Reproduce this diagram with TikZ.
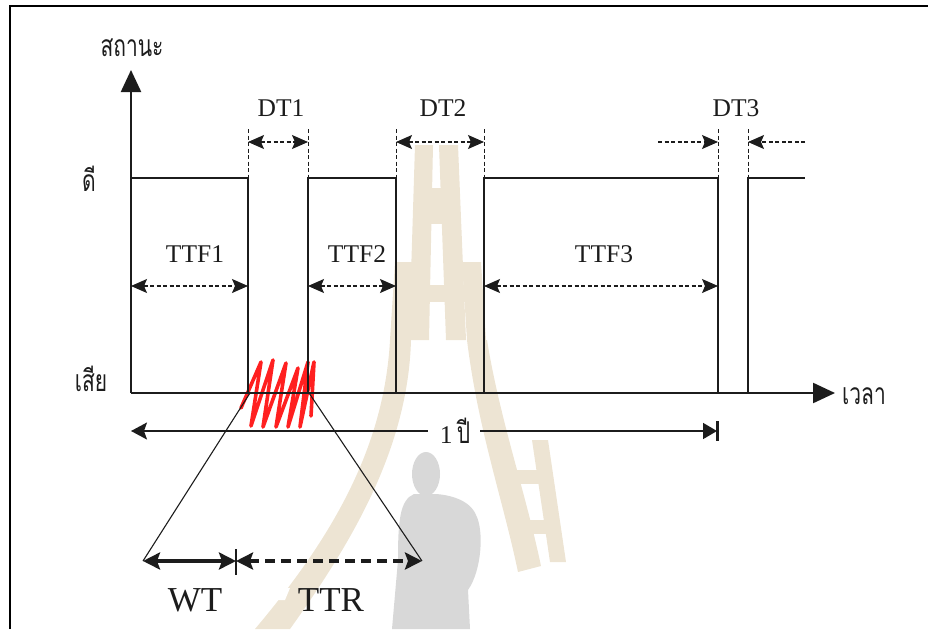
\documentclass[tikz,border=0pt]{standalone}
\usepackage{fontspec}
\setmainfont{Liberation Serif}
\newfontfamily\thaifont[Script=Thai,FakeStretch=0.7]{Loma}
\usetikzlibrary{arrows.meta}
\definecolor{ink}{RGB}{28,28,28}
\definecolor{embtan}{RGB}{237,228,211}
\definecolor{figgrey}{RGB}{216,216,216}
\definecolor{zigred}{RGB}{255,32,32}
\begin{document}
\begin{tikzpicture}[x=1pt,y=-1pt,
  frame/.style={line width=1.3pt, draw=black},
  sig/.style={line width=1.3pt, draw=ink},
  axis/.style={line width=2.3pt, draw=ink, -{Triangle[length=22pt,width=20pt]}},
  guide/.style={line width=1pt, draw=ink, dash pattern=on 4pt off 2.5pt},
  dtspan/.style={line width=1.1pt, draw=ink, dash pattern=on 4pt off 2.5pt},
  twohead/.style={{Stealth[length=16pt,width=14pt,inset=3pt]}-{Stealth[length=16pt,width=14pt,inset=3pt]}},
  onehead/.style={-{Stealth[length=16pt,width=14pt,inset=3pt]}},
  lbl/.style={font=\fontsize{25.5}{30}\selectfont, text=ink, inner sep=0pt},
  biglbl/.style={font=\fontsize{35}{40}\selectfont, text=ink, inner sep=0pt},
  thai/.style={font=\thaifont\fontsize{30}{34}\selectfont, text=ink, inner sep=0pt},
  funnel/.style={line width=1.1pt, draw=ink},
  wide/.style={line width=3.6pt, draw=ink},
  widehead/.style={{Stealth[length=17pt,width=17pt,inset=3pt]}-{Stealth[length=17pt,width=17pt,inset=3pt]}}
]
\useasboundingbox (0,0) rectangle (928,629);

% ---- faint background emblem ----
\begin{scope}
  \fill[embtan] (415,145) -- (433,145) -- (429,340) -- (409,340) -- cycle;
  \fill[embtan] (439,145) -- (458,145) -- (466,340) -- (446,340) -- cycle;
  \fill[embtan] (415,188) rectangle (458,224);
  \fill[embtan] (395,262) -- (413,262) -- (410,340) -- (390,340) -- cycle;
  \fill[embtan] (462,262) -- (481,262) -- (486,340) -- (467,340) -- cycle;
  \fill[embtan] (395,285) rectangle (481,302);
  \fill[embtan] (390,340) .. controls (384,450) and (330,540) .. (255,629)
        -- (290,629) .. controls (350,545) and (408,450) .. (411,340) -- cycle;
  \fill[embtan] (467,340) .. controls (478,430) and (503,500) .. (518,572)
        -- (541,566) .. controls (525,490) and (500,420) .. (487,340) -- cycle;
  \fill[embtan] (532,440) -- (548,440) -- (566,562) -- (550,562) -- cycle;
  \fill[embtan] (500,470) rectangle (545,484);
  \fill[embtan] (512,520) rectangle (556,534);
  \fill[white] (300,528) -- (322,528) -- (318,540) -- (296,540) -- cycle;
  \fill[white] (268,588) -- (290,588) -- (285,600) -- (263,600) -- cycle;
  % standing figure
  \fill[figgrey] (426,474) ellipse [x radius=14, y radius=22];
  \fill[figgrey] (414,494) .. controls (400,500) and (398,520) .. (398,560)
        -- (392,629) -- (470,629) -- (468,590)
        .. controls (482,570) and (484,530) .. (476,515)
        .. controls (470,500) and (450,495) .. (436,494) -- cycle;
\end{scope}

% ---- page frame ----
\coordinate (fbl) at (10,629);
\coordinate (ftl) at (10,6);
\coordinate (ftr) at (928,6);
\draw[frame] (fbl) -- (ftl) -- (ftr);

% ---- key points of the state signal ----
\coordinate (o)   at (131,393);
\coordinate (ytip) at (131,70);
\coordinate (xtip) at (835,393);
\coordinate (s0)  at (131,178);
\coordinate (a1t) at (248,178);  \coordinate (a1b) at (248,393);
\coordinate (b1b) at (308,393);  \coordinate (b1t) at (308,178);
\coordinate (a2t) at (396,178);  \coordinate (a2b) at (396,393);
\coordinate (b2b) at (484,393);  \coordinate (b2t) at (484,178);
\coordinate (a3t) at (718,178);  \coordinate (a3b) at (718,393);
\coordinate (b3b) at (748,393);  \coordinate (b3t) at (748,178);
\coordinate (sEnd) at (805,178);

% guide tops
\coordinate (g1) at (248,129);  \coordinate (g2) at (308,129);
\coordinate (g3) at (396,129);  \coordinate (g4) at (484,129);
\coordinate (g5) at (718,129);  \coordinate (g6) at (748,129);

% ---- red failure burst ----
\draw[zigred, line width=3.6pt, line join=round, line cap=round]
  (241,408) -- (261,362) -- (251,426) -- (273,360) -- (263,427) -- (286,363)
  -- (276,427) -- (298,368) -- (288,427) -- (308,362) -- (300,427)
  -- (314,362) -- (311,416);

% ---- signal ----
\draw[sig] (s0) -- (a1t) -- (a1b);
\draw[sig] (b1b) -- (b1t) -- (a2t) -- (a2b);
\draw[sig] (b2b) -- (b2t) -- (a3t) -- (a3b);
\draw[sig] (b3b) -- (b3t) -- (sEnd);

% ---- axes ----
\draw[axis] (o) -- (ytip);
\draw[axis] (o) -- (xtip);

% ---- guides for down times ----
\draw[guide] (g1) -- (a1t);
\draw[guide] (g2) -- (b1t);
\draw[guide] (g3) -- (a2t);
\draw[guide] (g4) -- (b2t);
\draw[guide] (g5) -- (a3t);
\draw[guide] (g6) -- (b3t);

% ---- down time spans ----
\coordinate (d1l) at (248,142); \coordinate (d1r) at (308,142);
\coordinate (d2l) at (396,142); \coordinate (d2r) at (484,142);
\coordinate (d3l) at (718,142); \coordinate (d3r) at (748,142);
\coordinate (d3lo) at (658,142); \coordinate (d3ro) at (805,142);
\draw[dtspan, twohead] (d1l) -- (d1r);
\draw[dtspan, twohead] (d2l) -- (d2r);
\draw[dtspan, onehead] (d3lo) -- (d3l);
\draw[dtspan, onehead] (d3ro) -- (d3r);
\node[lbl] (dt1) at (281,108) {DT1};
\node[lbl] (dt2) at (443,108) {DT2};
\node[lbl] (dt3) at (736,108) {DT3};

% ---- time to failure spans ----
\coordinate (t1l) at (131,286); \coordinate (t1r) at (248,286);
\coordinate (t2l) at (308,286); \coordinate (t2r) at (396,286);
\coordinate (t3l) at (484,286); \coordinate (t3r) at (718,286);
\draw[dtspan, twohead] (t1l) -- (t1r);
\draw[dtspan, twohead] (t2l) -- (t2r);
\draw[dtspan, twohead] (t3l) -- (t3r);
\node[lbl] (ttf1) at (195,254) {TTF1};
\node[lbl] (ttf2) at (357,254) {TTF2};
\node[lbl] (ttf3) at (604,254) {TTF3};

% ---- axis labels ----
\node[thai] (state) at (132,48) {สถานะ};
\node[thai] (good)  at (89,179) {ดี};
\node[thai] (bad)   at (91,379) {เสีย};
\node[thai] (time)  at (864,396) {เวลา};

% ---- one year span ----
\coordinate (yl) at (131,431);
\coordinate (yr) at (717,431);
\node[font=\fontsize{25.5}{30}\selectfont, text=ink, inner sep=0pt] (year) at (455,431) {1\,{\thaifont\fontsize{30}{34}\selectfont ปี}};
\draw[line width=1.6pt, ink, {Stealth[length=16pt,width=17pt,inset=3pt]}-] (yl) -- ([xshift=-12pt]year.west);
\draw[line width=1.6pt, ink, -{Triangle[length=14pt,width=16pt]}] ([xshift=10pt]year.east) -- (yr);
\coordinate (ybt) at (717,421);
\coordinate (ybb) at (717,441);
\draw[line width=3pt, ink] (ybt) -- (ybb);

% ---- zoom onto the repair interval ----
\coordinate (fl) at (250,393);
\coordinate (fr) at (309,393);
\coordinate (wl) at (143,561);
\coordinate (wm) at (236,561);
\coordinate (wr) at (422,561);
\draw[funnel] (fl) -- (wl);
\draw[funnel] (fr) -- (wr);
\draw[wide, widehead] (wl) -- (wm);
\draw[wide, widehead, dash pattern=on 10pt off 6pt] (wm) -- (wr);
\coordinate (wmt) at (236,549);
\coordinate (wmb) at (236,575);
\draw[line width=2pt, ink] (wmt) -- (wmb);
\node[biglbl] (wt)  at (195,600) {WT};
\node[biglbl] (ttr) at (331,600) {TTR};
\end{tikzpicture}
\end{document}
